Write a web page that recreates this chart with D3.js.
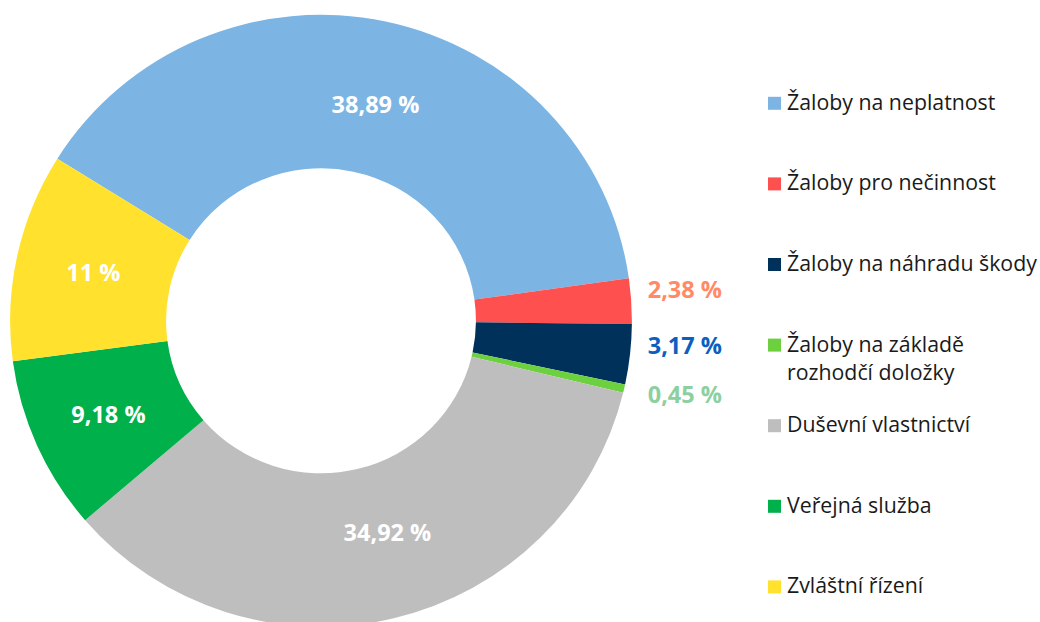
<!DOCTYPE html>
<html>
<head>
<meta charset="utf-8">
<script src="https://cdn.jsdelivr.net/npm/d3@7"></script>
<style>
  body { margin: 0; background: #fff; }
  svg { display: block; font-family: "Open Sans", sans-serif; }
</style>
</head>
<body>
<script>
// Chart data
const categories = [
  "Žaloby na neplatnost",
  "Žaloby pro nečinnost",
  "Žaloby na náhradu škody",
  "Žaloby na základě rozhodčí doložky",
  "Duševní vlastnictví",
  "Veřejná služba",
  "Zvláštní řízení"
];
const shares = [38.89, 2.38, 3.17, 0.45, 34.92, 9.18, 11];
const legendLines = [
  ["Žaloby na neplatnost"],
  ["Žaloby pro nečinnost"],
  ["Žaloby na náhradu škody"],
  ["Žaloby na základě", "rozhodčí doložky"],
  ["Duševní vlastnictví"],
  ["Veřejná služba"],
  ["Zvláštní řízení"]
];
const sliceColors = ["#7cb5e4", "#ff5050", "#00315b", "#6dd03f", "#bebebe", "#00b04a", "#ffe12e"];

// small slices get their label outside, in a lighter tint
const outsideColors = { 1: "#ff8a65", 2: "#0b5fc0", 3: "#8ecf9f" };
const outsideNudge = { 1: -8, 2: -15, 3: -6 };
// the two big slices have their labels pulled in a bit
const insideNudge = { 0: [6, 8], 4: [12, -11] };

const WIDTH = 1040;
const HEIGHT = 622;
const cx = 321, cy = 320.8;
const outerR = 306, innerR = 152.5;
const stretch = 1.016; // the reference is a touch wider than tall
const startAngle = -58 * Math.PI / 180;

const fmt = v => String(v).replace(".", ",") + " %";

const svg = d3.select("body").append("svg")
  .attr("width", WIDTH)
  .attr("height", HEIGHT);

const pie = d3.pie()
  .sort(null)
  .startAngle(startAngle)
  .endAngle(startAngle + 2 * Math.PI)
  .value(d => d);

const arcs = pie(shares);

const arc = d3.arc().innerRadius(innerR).outerRadius(outerR);

const donut = svg.append("g")
  .attr("transform", `translate(${cx},${cy}) scale(${stretch},1)`);

donut.selectAll("path")
  .data(arcs)
  .enter()
  .append("path")
  .attr("d", arc)
  .attr("fill", (d, i) => sliceColors[i]);

/** labels: inside ones sit on the ring centroid, small ones go outside */
const labels = svg.append("g")
  .attr("font-weight", 700)
  .attr("font-size", 23.5)
  .attr("text-anchor", "middle");

arcs.forEach((d, i) => {
  const mid = (d.startAngle + d.endAngle) / 2;
  let x, y, fill;
  if (outsideColors[i]) {
    x = cx + outerR * stretch + 53;
    y = cy - 358 * Math.cos(mid) + outsideNudge[i];
    fill = outsideColors[i];
  } else {
    const c = arc.centroid(d);
    const n = insideNudge[i] || [0, 0];
    x = cx + c[0] * stretch + n[0];
    y = cy + c[1] + n[1];
    fill = "#fff";
  }
  labels.append("text")
    .attr("x", x)
    .attr("y", y)
    .attr("dy", "0.36em")
    .attr("fill", fill)
    .text(fmt(shares[i]));
});

/** legend on the right */
const rowY = d3.scaleLinear()
  .domain([0, categories.length - 1])
  .range([103.3, 586.9]);

const legend = svg.append("g")
  .attr("font-size", 21.3)
  .attr("fill", "#1a1a1a");

categories.forEach((c, i) => {
  const y = rowY(i);
  legend.append("rect")
    .attr("x", 768)
    .attr("y", y - 6.5)
    .attr("width", 13)
    .attr("height", 13)
    .attr("fill", sliceColors[i]);
  legendLines[i].forEach((line, k) => {
    legend.append("text")
      .attr("x", 787)
      .attr("y", y + 6.5 + k * 28.5)
      .text(line);
  });
});
</script>
</body>
</html>
